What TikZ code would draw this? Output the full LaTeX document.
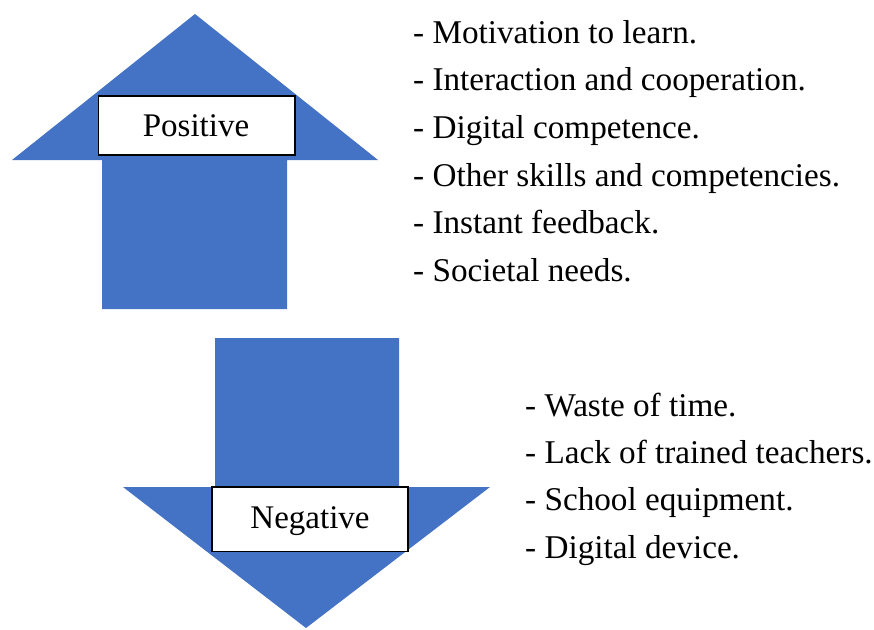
\documentclass[tikz,border=0pt]{standalone}
\usepackage{fontspec}
\setmainfont{Liberation Serif}
\definecolor{arrowblue}{HTML}{4472C4}
\begin{document}
\begin{tikzpicture}[x=1pt,y=-1pt,
  bigarrow/.style={fill=arrowblue,draw=none},
  labelbox/.style={draw=black,line width=1.1pt,fill=white},
  itemtext/.style={anchor=base west,inner sep=0pt,font=\fontsize{33.2}{39}\selectfont},
  boxtext/.style={anchor=base,inner sep=0pt,font=\fontsize{33}{39}\selectfont}]
\useasboundingbox (0,0) rectangle (874,629);
% up arrow
\fill[bigarrow] (195,14) -- (378,160) -- (287,160) -- (287,309) -- (102,309) -- (102,160) -- (12,160) -- cycle;
\draw[labelbox] (98.5,96) rectangle (295,155);
\node[boxtext] (pos) at (196,136) {Positive};
% down arrow
\fill[bigarrow] (215,338) -- (399,338) -- (399,487) -- (490,487) -- (306,628) -- (123,487) -- (215,487) -- cycle;
\draw[labelbox] (212,487) rectangle (408,551.5);
\node[boxtext] (neg) at (310,528) {Negative};
% positive list
\node[itemtext] (p1) at (413,43) {- Motivation to learn.};
\node[itemtext] (p2) at (413,90.5) {- Interaction and cooperation.};
\node[itemtext] (p3) at (413,138) {- Digital competence.};
\node[itemtext] (p4) at (413,186) {- Other skills and competencies.};
\node[itemtext] (p5) at (413,233.5) {- Instant feedback.};
\node[itemtext] (p6) at (413,281) {- Societal needs.};
% negative list
\node[itemtext] (n1) at (525,416) {- Waste of time.};
\node[itemtext] (n2) at (525,463) {- Lack of trained teachers.};
\node[itemtext] (n3) at (525,510) {- School equipment.};
\node[itemtext] (n4) at (525,558) {- Digital device.};
\end{tikzpicture}
\end{document}
